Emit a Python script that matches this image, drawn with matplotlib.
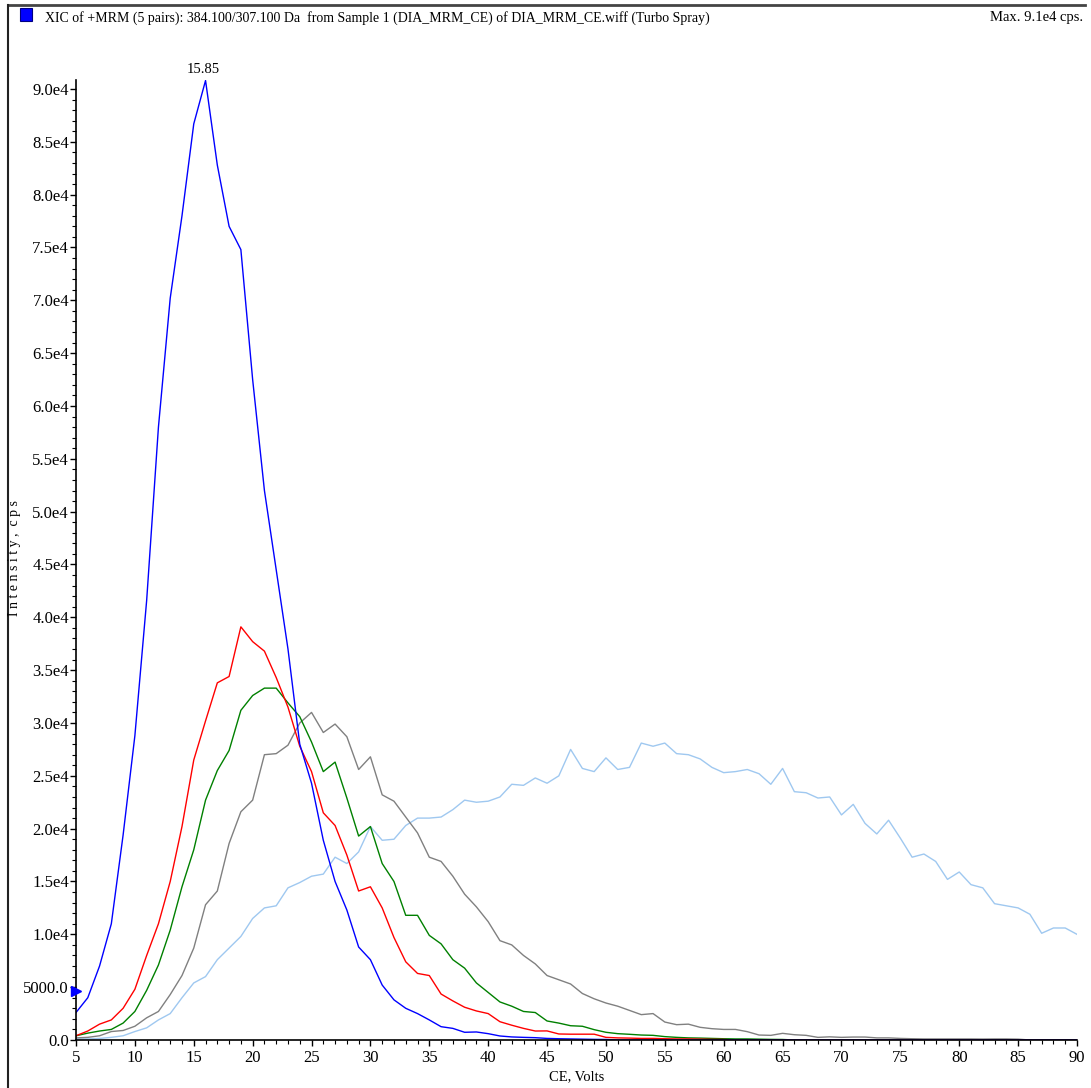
import matplotlib.pyplot as plt
from matplotlib.lines import Line2D
from matplotlib.patches import Rectangle
from matplotlib.ticker import MultipleLocator

plt.rcParams['font.family'] = ['Liberation Serif', 'DejaVu Serif']

# collision energy, volts
ce = list(range(5, 91))

blue = [2600, 4000, 7000, 11000, 19400, 28800, 41600, 58000, 70200, 78000,
        86700, 90800, 82800, 77000, 74800, 62500, 52000, 44500, 37000, 28000,
        24300, 18900, 15000, 12300, 8800, 7600, 5200, 3800, 3000, 2500,
        1900, 1260, 1100, 730, 760, 600, 380, 290, 250, 220,
        150, 120, 100, 80, 60, 50, 0, 0, 0, 0,
        0, 0, 0, 0, 0, 0, 0, 0, 0, 0,
        0, 0, 0, 0, 0, 0, 0, 0, 0, 0,
        0, 0, 0, 0, 0, 0, 0, 0, 0, 0,
        0, 0, 0, 0, 0, 0]
red = [400, 850, 1500, 1900, 3000, 4800, 8000, 11000, 15000, 20200,
       26500, 30200, 33800, 34400, 39100, 37700, 36800, 34300, 31500, 27800,
       25400, 21500, 20300, 17500, 14100, 14500, 12500, 9700, 7400, 6300,
       6100, 4350, 3700, 3100, 2750, 2500, 1730, 1400, 1100, 850,
       860, 570, 550, 550, 550, 250, 200, 180, 150, 150,
       120, 100, 100, 80, 60, 50, 0, 0, 0, 0,
       0, 0, 0, 0, 0, 0, 0, 0, 0, 0,
       0, 0, 0, 0, 0, 0, 0, 0, 0, 0,
       0, 0, 0, 0, 0, 0]
green = [400, 650, 850, 1000, 1600, 2700, 4700, 7100, 10400, 14500,
         18000, 22700, 25500, 27400, 31200, 32600, 33300, 33300, 31900, 30600,
         28200, 25400, 26300, 22900, 19300, 20200, 16700, 15000, 11800, 11800,
         9900, 9100, 7600, 6800, 5400, 4500, 3600, 3200, 2700, 2600,
         1800, 1600, 1350, 1300, 980, 730, 600, 540, 470, 440,
         320, 250, 200, 180, 150, 120, 100, 100, 80, 60,
         50, 0, 0, 0, 0, 0, 0, 0, 0, 0,
         0, 0, 0, 0, 0, 0, 0, 0, 0, 0,
         0, 0, 0, 0, 0, 0]
gray = [200, 250, 400, 800, 900, 1300, 2100, 2700, 4300, 6100,
        8700, 12800, 14100, 18600, 21600, 22700, 27000, 27100, 27900, 30000,
        31000, 29100, 29900, 28700, 25600, 26800, 23200, 22600, 21100, 19600,
        17300, 16900, 15500, 13800, 12600, 11200, 9400, 9000, 8000, 7200,
        6100, 5700, 5300, 4400, 3900, 3500, 3200, 2800, 2400, 2500,
        1700, 1450, 1500, 1200, 1070, 1000, 1000, 790, 470, 440,
        630, 500, 440, 250, 300, 250, 280, 280, 200, 200,
        150, 120, 100, 100, 100, 100, 100, 90, 100, 100,
        80, 0, 0, 0, 0, 0]
light = [100, 100, 150, 250, 400, 800, 1150, 1900, 2500, 4000,
         5400, 6000, 7600, 8700, 9800, 11500, 12500, 12700, 14400, 14900,
         15500, 15700, 17300, 16700, 17800, 20200, 18900, 19000, 20300, 21000,
         21000, 21100, 21800, 22700, 22500, 22600, 23000, 24200, 24100, 24800,
         24300, 25000, 27500, 25700, 25400, 26700, 25600, 25800, 28100, 27800,
         28100, 27100, 27000, 26600, 25800, 25300, 25400, 25600, 25200, 24200,
         25700, 23500, 23400, 22900, 23000, 21300, 22300, 20500, 19500, 20800,
         19100, 17300, 17600, 16900, 15200, 15900, 14700, 14400, 12900, 12700,
         12500, 11900, 10100, 10600, 10600, 10000]

ytick_vals = [0, 5000, 10000, 15000, 20000, 25000, 30000, 35000, 40000, 45000,
              50000, 55000, 60000, 65000, 70000, 75000, 80000, 85000, 90000]
ytick_labels = ['0.0', '5000.0', '1.0e4', '1.5e4', '2.0e4', '2.5e4', '3.0e4',
                '3.5e4', '4.0e4', '4.5e4', '5.0e4', '5.5e4', '6.0e4', '6.5e4',
                '7.0e4', '7.5e4', '8.0e4', '8.5e4', '9.0e4']

W, H = 1091, 1088
fig = plt.figure(figsize=(W / 100, H / 100), dpi=100)
ax = fig.add_axes([76 / W, 1 - 1040 / H, (1077 - 76) / W, (1040 - 80) / H])

lw = 1.0
ax.plot(ce, light, color='#9fc8f0', lw=lw)
ax.plot(ce, gray, color='#808080', lw=lw)
ax.plot(ce, green, color='#008000', lw=lw)
ax.plot(ce, red, color='#ff0000', lw=lw)
ax.plot(ce, blue, color='#0000ff', lw=lw)

ax.set_xlim(5, 90)
ax.set_ylim(0, 90850)
ax.spines['top'].set_visible(False)
ax.spines['right'].set_visible(False)
ax.spines['left'].set_linewidth(1.2)
ax.spines['bottom'].set_linewidth(1.2)

ax.xaxis.set_major_locator(MultipleLocator(5))
ax.xaxis.set_minor_locator(MultipleLocator(1))
ax.set_yticks(ytick_vals)
ax.set_yticklabels(ytick_labels)
ax.yaxis.set_minor_locator(MultipleLocator(1000))
ax.tick_params(which='major', length=4, width=1, labelsize=12, pad=1)
ax.tick_params(which='minor', length=3, width=0.8)
ax.tick_params(axis='x', which='major', pad=3)

ax.set_xlabel('CE, Volts', fontsize=10.5, labelpad=3)
fig.text(15 / W, 1 - 558 / H, 'I n t e n s i t y ,  c p s', rotation=90,
         ha='center', va='center', fontsize=10)

# peak label
i_max = blue.index(max(blue))
ax.annotate('15.85', (ce[i_max] - 0.15, blue[i_max]), xytext=(0, 3),
            textcoords='offset points', ha='center', va='bottom', fontsize=10.5)

# threshold marker on y axis
ax.plot([5], [4600], marker='>', color='#0000ff', markersize=7,
        clip_on=False, zorder=5)

# header
fig.text(45 / W, 1 - 18 / H,
         'XIC of +MRM (5 pairs): 384.100/307.100 Da  from Sample 1 (DIA_MRM_CE) of DIA_MRM_CE.wiff (Turbo Spray)',
         ha='left', va='center', fontsize=10)
fig.text(1083 / W, 1 - 18 / H, 'Max. 9.1e4 cps.', ha='right', va='center',
         fontsize=10.5)
fig.add_artist(Rectangle((20 / W, 1 - 21 / H), 12 / W, 13 / H,
                         transform=fig.transFigure, facecolor='#0000ff',
                         edgecolor='#000080', lw=0.8))

# outer frame lines
fig.add_artist(Line2D([8 / W, 1085 / W], [1 - 5 / H, 1 - 5 / H],
                      transform=fig.transFigure, color='#444444', lw=2))
fig.add_artist(Line2D([8 / W, 8 / W], [0, 1 - 5 / H],
                      transform=fig.transFigure, color='#222222', lw=1.5))

plt.savefig('out.png', dpi=100)
